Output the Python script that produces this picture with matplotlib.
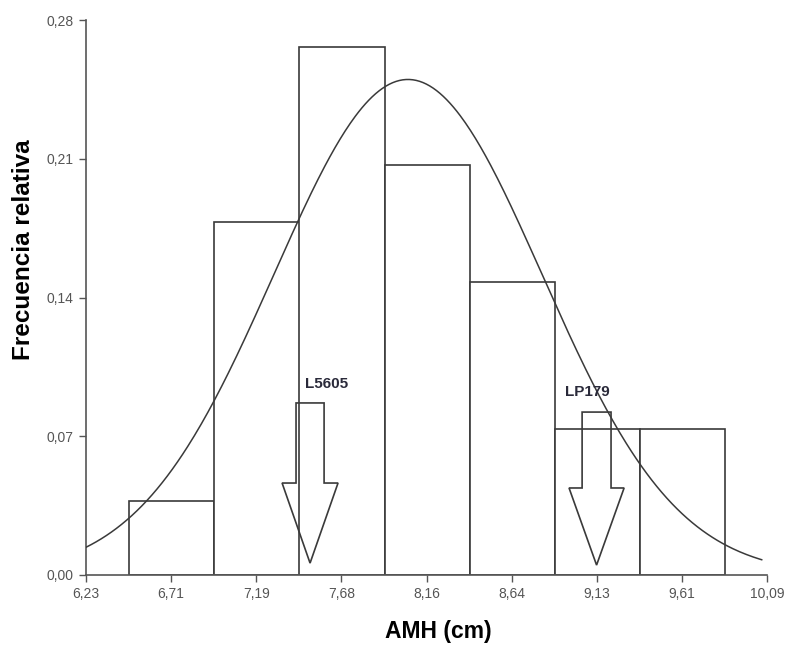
import numpy as np
import matplotlib
matplotlib.use("Agg")
import matplotlib.pyplot as plt
from matplotlib.patches import FancyArrow

# --- data ---
bin_left = [6.475, 6.958, 7.440, 7.923, 8.405, 8.888, 9.370]
bin_width = 0.4825
rel_freq = [0.0372, 0.1780, 0.2665, 0.2070, 0.1480, 0.0739, 0.0739]

# normal fit parameters
fit_mean = 8.055
fit_sd = 0.76
fit_peak = 0.250
fit_range = (6.23, 10.06)

xtick_labels = ["6,23", "6,71", "7,19", "7,68", "8,16", "8,64", "9,13", "9,61", "10,09"]
ytick_vals = [0.0, 0.07, 0.14, 0.21, 0.28]
ytick_labels = ["0,00", "0,07", "0,14", "0,21", "0,28"]

arrow_names = ["L5605", "LP179"]
arrow_x = [7.500, 9.124]
arrow_top = [0.0868, 0.0822]
arrow_base = [0.0464, 0.0439]
arrow_tip = [0.006, 0.005]
arrow_shaft_w = [0.159, 0.164]
arrow_head_w = [0.317, 0.312]
label_x = [7.47, 8.945]
label_y = [0.093, 0.089]

plt.rcParams['font.family'] = ['Liberation Sans', 'DejaVu Sans']
line_c = '#3a3a3a'

fig = plt.figure(figsize=(7.9, 6.47), dpi=100)
ax = fig.add_axes([86/790, 1-575/647, (767-86)/790, (575-20)/647])

ax.bar(bin_left, rel_freq, width=bin_width, align='edge', facecolor='white',
       edgecolor=line_c, linewidth=1.2, zorder=2)

xs = np.linspace(fit_range[0], fit_range[1], 400)
ys = fit_peak * np.exp(-0.5 * ((xs - fit_mean) / fit_sd) ** 2)
ax.plot(xs, ys, color=line_c, linewidth=1.1, zorder=3)

for i in range(len(arrow_names)):
    arr = FancyArrow(arrow_x[i], arrow_top[i], 0, -(arrow_top[i] - arrow_tip[i]),
                     width=arrow_shaft_w[i], head_width=arrow_head_w[i],
                     head_length=arrow_base[i] - arrow_tip[i],
                     length_includes_head=True, fill=False,
                     edgecolor=line_c, linewidth=1.2, zorder=4)
    ax.add_patch(arr)
    ax.text(label_x[i], label_y[i], arrow_names[i], fontsize=11, fontweight='bold',
            color='#2a2a3a', ha='left', va='bottom', zorder=5)

ax.set_xlim(6.23, 10.09)
ax.set_ylim(0, 0.28)
ax.set_xticks(np.linspace(6.23, 10.09, len(xtick_labels)))
ax.set_xticklabels(xtick_labels)
ax.set_yticks(ytick_vals)
ax.set_yticklabels(ytick_labels)

for s in ['top', 'right']:
    ax.spines[s].set_visible(False)
for s in ['left', 'bottom']:
    ax.spines[s].set_color('#555555')
    ax.spines[s].set_linewidth(1.2)
ax.tick_params(axis='both', direction='out', length=5, width=1, color='#555555',
               labelcolor='#555555', labelsize=10, pad=4)

ax.set_xlabel("AMH (cm)", fontsize=16.5, fontweight='bold', color='black')
ax.xaxis.label.set_va('center')
ax.xaxis.set_label_coords(0.517, -0.1027)
ax.set_ylabel("Frecuencia relativa", fontsize=17.5, fontweight='bold', color='black')
ax.yaxis.label.set_va('center')
ax.yaxis.set_label_coords(-0.0925, 0.586)

fig.savefig("out.png", dpi=100)
